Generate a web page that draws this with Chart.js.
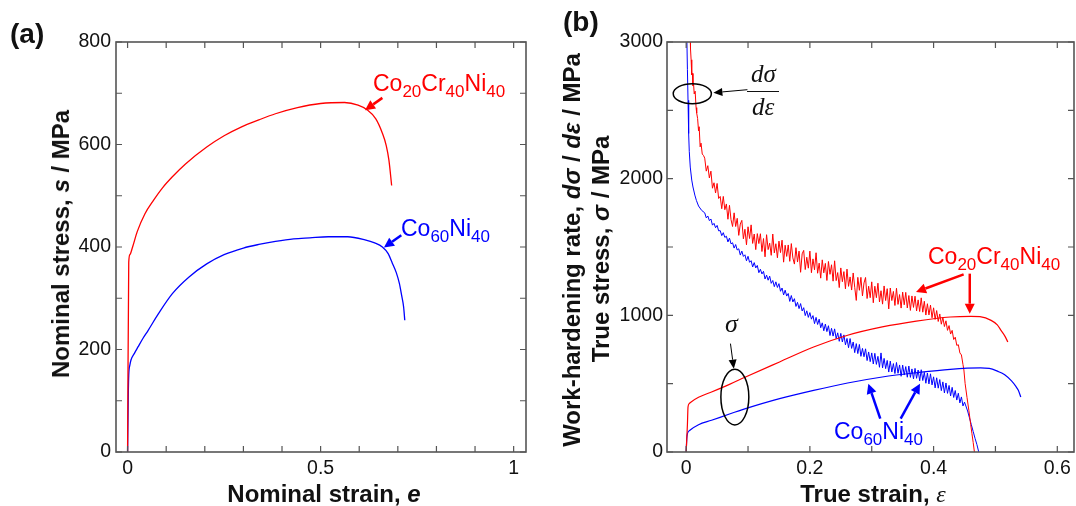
<!DOCTYPE html>
<html>
<head>
<meta charset="utf-8">
<script src="https://cdn.jsdelivr.net/npm/chart.js@4.4.1/dist/chart.umd.min.js"></script>
<style>
  html, body { margin: 0; padding: 0; background: #fff; }
  #wrap { position: relative; width: 1076px; height: 506px; overflow: hidden;
          font-family: 'Liberation Sans', Arial, sans-serif; color: #111; }
  canvas { position: absolute; top: 0; }
  #cA { left: 0; }
  #cB { left: 540px; }
  .t { position: absolute; white-space: nowrap; line-height: 1; }
  .b { font-weight: bold; font-size: 24px; }
  .pn { font-weight: bold; font-size: 28px; }
  .rot { transform: translate(-50%, -50%) rotate(-90deg); }
  .ctr { transform: translateX(-50%); }
  .lab { font-size: 23px; }
  .lab sub { font-size: 17px; vertical-align: -6px; line-height: 0; }
  .red { color: #f00; }
  .blue { color: #00f; }
  .sym { font-family: 'Liberation Serif', 'Times New Roman', serif; font-style: italic; font-size: 25px; }
  .eps { font-family: 'Liberation Serif', 'Times New Roman', serif; font-style: italic; font-weight: normal; }
  .bar { position: absolute; height: 1.3px; background: #111; }
</style>
</head>
<body>
<div id="wrap">
  <canvas id="cA" width="540" height="506"></canvas>
  <canvas id="cB" width="536" height="506"></canvas>

  <div class="t pn" style="left:10px; top:20px;">(a)</div>
  <div class="t pn" style="left:563px; top:8px;">(b)</div>

  <div class="t b rot" style="left:61px; top:244px;">Nominal stress, <i>s</i> / MPa</div>
  <div class="t b ctr" style="left:324px; top:482px;">Nominal strain, <i>e</i></div>

  <div class="t b rot" style="left:572px; top:250px;">Work-hardening rate, <i>d&sigma;</i> / <i>d&epsilon;</i> / MPa</div>
  <div class="t b rot" style="left:601px; top:249px;">True stress, <i>&sigma;</i> / MPa</div>
  <div class="t b ctr" style="left:873px; top:482px;">True strain, <span class="eps">&epsilon;</span></div>

  <div class="t lab red" style="left:373px; top:72px;">Co<sub>20</sub>Cr<sub>40</sub>Ni<sub>40</sub></div>
  <div class="t lab blue" style="left:401px; top:217px;">Co<sub>60</sub>Ni<sub>40</sub></div>
  <div class="t lab red" style="left:928px; top:245px;">Co<sub>20</sub>Cr<sub>40</sub>Ni<sub>40</sub></div>
  <div class="t lab blue" style="left:834px; top:420px;">Co<sub>60</sub>Ni<sub>40</sub></div>

  <div class="t sym" style="left:751px; top:61px;">d&sigma;</div>
  <div class="bar" style="left:747px; top:91px; width:32px;"></div>
  <div class="t sym" style="left:752px; top:94px;">d&epsilon;</div>
  <div class="t sym" style="left:725px; top:311px; font-size:26px;">&sigma;</div>
</div>

<script>
// ===== DADOS: painel (a) tensão nominal x deformação nominal =====
const nomCrNi = [
  [0, 0], [0.003, 370], [0.006, 385], [0.013, 400], [0.025, 430], [0.045, 465],
  [0.067, 491], [0.09, 515], [0.116, 537], [0.15, 562], [0.205, 595], [0.25, 617],
  [0.294, 634], [0.34, 648], [0.383, 660], [0.44, 672], [0.5, 680], [0.562, 682],
  [0.597, 677], [0.62, 668], [0.643, 650], [0.66, 622], [0.67, 598], [0.677, 569], [0.684, 520]
];
const nomCoNi = [
  [0, 0], [0.002, 120], [0.003, 150], [0.006, 170], [0.009, 180], [0.018, 193],
  [0.027, 205], [0.04, 222], [0.053, 237], [0.08, 270], [0.116, 309], [0.16, 342],
  [0.205, 367], [0.25, 385], [0.3, 398], [0.34, 405], [0.383, 411], [0.43, 416],
  [0.472, 418], [0.52, 420], [0.57, 420], [0.615, 414], [0.64, 408], [0.66, 400],
  [0.675, 387], [0.686, 368], [0.696, 350], [0.704, 329], [0.71, 305], [0.715, 283], [0.718, 257]
];

// ===== DADOS: painel (b) tensão verdadeira =====
const trueCrNi = [
  [0, 0], [0.002, 200], [0.003, 330], [0.005, 355], [0.008, 366], [0.02, 400],
  [0.041, 439], [0.07, 495], [0.096, 549], [0.151, 659], [0.206, 768], [0.261, 854],
  [0.317, 915], [0.372, 958], [0.427, 988], [0.46, 993], [0.475, 990], [0.493, 963],
  [0.503, 930], [0.509, 890], [0.515, 850], [0.52, 805]
];
const trueCoNi = [
  [0, 0], [0.001, 100], [0.002, 134], [0.006, 159], [0.02, 200], [0.041, 232],
  [0.07, 278], [0.096, 317], [0.151, 390], [0.206, 451], [0.261, 505], [0.317, 549],
  [0.372, 580], [0.427, 605], [0.476, 615], [0.49, 612], [0.504, 590], [0.515, 565],
  [0.526, 520], [0.533, 480], [0.537, 451], [0.541, 402]
];

// ===== DADOS: taxa de encruamento dσ/dε (com o ruído) =====
const hardCrNi = [
  [0.0062, 3100], [0.007, 2950], [0.008, 2870], [0.009, 2760], [0.010, 2770], [0.011, 2680],
  [0.012, 2690], [0.013, 2620], [0.0145, 2640], [0.016, 2520], [0.017, 2480], [0.0185, 2440],
  [0.020, 2350], [0.021, 2380], [0.0226, 2233], [0.024, 2260], [0.026, 2180], [0.028, 2170],
  [0.0300, 2150], [0.0325, 2055], [0.0350, 2095], [0.0375, 2005], [0.0400, 2055], [0.0425, 1930],
  [0.0450, 1970], [0.0475, 1895], [0.0500, 1965], [0.0525, 1855], [0.0550, 1870], [0.0575, 1780],
  [0.0600, 1870], [0.0625, 1773], [0.0650, 1815], [0.0675, 1703], [0.0700, 1805], [0.0725, 1700],
  [0.0750, 1650], [0.0775, 1750], [0.0800, 1650], [0.0825, 1710], [0.0850, 1585], [0.0875, 1668],
  [0.0900, 1695], [0.0925, 1560], [0.0950, 1630], [0.0975, 1516], [0.1000, 1648], [0.1025, 1562],
  [0.1050, 1662], [0.1075, 1526], [0.1100, 1595], [0.1125, 1481], [0.1150, 1598], [0.1175, 1525],
  [0.1200, 1597], [0.1225, 1467], [0.1250, 1562], [0.1275, 1428], [0.1300, 1590], [0.1325, 1481],
  [0.1350, 1528], [0.1375, 1439], [0.1400, 1595], [0.1425, 1457], [0.1450, 1524], [0.1475, 1421],
  [0.1500, 1543], [0.1525, 1459], [0.1550, 1550], [0.1575, 1389], [0.1600, 1513], [0.1625, 1431],
  [0.1650, 1515], [0.1675, 1395], [0.1700, 1525], [0.1725, 1420], [0.1750, 1375], [0.1775, 1495],
  [0.1800, 1390], [0.1825, 1470], [0.1850, 1315], [0.1875, 1450], [0.1900, 1475], [0.1925, 1335],
  [0.1950, 1425], [0.1975, 1345], [0.2000, 1470], [0.2025, 1312], [0.2050, 1413], [0.2075, 1333],
  [0.2100, 1458], [0.2125, 1308], [0.2150, 1382], [0.2175, 1272], [0.2200, 1406], [0.2225, 1311],
  [0.2250, 1380], [0.2275, 1255], [0.2300, 1394], [0.2325, 1300], [0.2350, 1370], [0.2375, 1250],
  [0.2400, 1399], [0.2425, 1254], [0.2450, 1313], [0.2475, 1203], [0.2500, 1347], [0.2525, 1246],
  [0.2550, 1320], [0.2575, 1194], [0.2600, 1338], [0.2625, 1212], [0.2650, 1281], [0.2675, 1185],
  [0.2700, 1310], [0.2725, 1205], [0.2750, 1109], [0.2775, 1278], [0.2800, 1183], [0.2825, 1278],
  [0.2850, 1142], [0.2875, 1237], [0.2900, 1277], [0.2925, 1123], [0.2950, 1213], [0.2975, 1129],
  [0.3000, 1245], [0.3025, 1092], [0.3050, 1213], [0.3075, 1129], [0.3100, 1235], [0.3125, 1098],
  [0.3150, 1180], [0.3175, 1082], [0.3200, 1215], [0.3225, 1108], [0.3250, 1195], [0.3275, 1047],
  [0.3300, 1200], [0.3325, 1108], [0.3350, 1175], [0.3375, 1072], [0.3400, 1198], [0.3425, 1080],
  [0.3450, 1152], [0.3475, 1053], [0.3500, 1170], [0.3525, 1077], [0.3550, 1168], [0.3575, 1054],
  [0.3600, 1145], [0.3625, 1036], [0.3650, 1142], [0.3675, 1058], [0.3700, 1140], [0.3725, 1032],
  [0.3750, 1113], [0.3775, 1028], [0.3800, 1128], [0.3825, 1023], [0.3850, 1103], [0.3875, 1002],
  [0.3900, 1085], [0.3925, 1003], [0.3950, 1075], [0.3975, 982], [0.4000, 1055], [0.4025, 970],
  [0.4050, 1035], [0.4075, 955], [0.4100, 1010], [0.4125, 935], [0.4150, 985], [0.4175, 918],
  [0.4200, 960], [0.4225, 890], [0.4250, 925], [0.4275, 863], [0.4300, 890], [0.4325, 823],
  [0.4350, 840], [0.4375, 780], [0.4400, 785], [0.4425, 725], [0.4450, 710], [0.4475, 640],
  [0.449, 600], [0.451, 500], [0.454, 400], [0.457, 305], [0.460, 200], [0.462, 134],
  [0.464, 70], [0.466, 0]
];
const hardCoNi = [
  [0.0008, 3100], [0.002, 2800], [0.003, 2573], [0.004, 2330], [0.005, 2200], [0.0066, 2085],
  [0.009, 1990], [0.011, 1939], [0.014, 1880], [0.0165, 1841], [0.020, 1800], [0.025, 1768],
  [0.0300, 1750], [0.0325, 1713], [0.0350, 1727], [0.0375, 1693], [0.0400, 1705], [0.0425, 1660],
  [0.0450, 1673], [0.0475, 1641], [0.0500, 1658], [0.0525, 1618], [0.0550, 1620], [0.0575, 1583],
  [0.0600, 1605], [0.0625, 1570], [0.0650, 1579], [0.0675, 1537], [0.0700, 1565], [0.0725, 1523],
  [0.0750, 1531], [0.0775, 1492], [0.0800, 1518], [0.0825, 1478], [0.0850, 1487], [0.0875, 1441],
  [0.0900, 1470], [0.0925, 1431], [0.0950, 1443], [0.0975, 1399], [0.1000, 1432], [0.1025, 1388],
  [0.1050, 1400], [0.1075, 1354], [0.1100, 1386], [0.1125, 1347], [0.1150, 1365], [0.1175, 1312],
  [0.1200, 1337], [0.1225, 1303], [0.1250, 1322], [0.1275, 1266], [0.1300, 1294], [0.1325, 1257],
  [0.1350, 1287], [0.1375, 1234], [0.1400, 1255], [0.1425, 1210], [0.1450, 1245], [0.1475, 1204],
  [0.1500, 1232], [0.1525, 1176], [0.1550, 1200], [0.1575, 1149], [0.1600, 1184], [0.1625, 1141],
  [0.1650, 1160], [0.1675, 1102], [0.1700, 1145], [0.1725, 1098], [0.1750, 1122], [0.1775, 1065],
  [0.1800, 1095], [0.1825, 1049], [0.1850, 1086], [0.1875, 1032], [0.1900, 1056], [0.1925, 998],
  [0.1950, 1033], [0.1975, 985], [0.2000, 1020], [0.2025, 972], [0.2050, 998], [0.2075, 939],
  [0.2100, 985], [0.2125, 933], [0.2150, 972], [0.2175, 909], [0.2200, 945], [0.2225, 887],
  [0.2250, 936], [0.2275, 881], [0.2300, 924], [0.2325, 852], [0.2350, 905], [0.2375, 848],
  [0.2400, 901], [0.2425, 829], [0.2450, 872], [0.2475, 810], [0.2500, 868], [0.2525, 805],
  [0.2550, 857], [0.2575, 784], [0.2600, 831], [0.2625, 763], [0.2650, 830], [0.2675, 758],
  [0.2700, 805], [0.2725, 727], [0.2750, 793], [0.2775, 720], [0.2800, 787], [0.2825, 700],
  [0.2850, 758], [0.2875, 697], [0.2900, 755], [0.2925, 669], [0.2950, 732], [0.2975, 661],
  [0.3000, 725], [0.3025, 644], [0.3050, 722], [0.3075, 641], [0.3100, 700], [0.3125, 620],
  [0.3150, 725], [0.3175, 615], [0.3200, 685], [0.3225, 610], [0.3250, 670], [0.3275, 585],
  [0.3300, 665], [0.3325, 586], [0.3350, 647], [0.3375, 574], [0.3400, 655], [0.3425, 576],
  [0.3450, 637], [0.3475, 554], [0.3500, 636], [0.3525, 563], [0.3550, 625], [0.3575, 547],
  [0.3600, 629], [0.3625, 546], [0.3650, 608], [0.3675, 535], [0.3700, 612], [0.3725, 539],
  [0.3750, 600], [0.3775, 521], [0.3800, 602], [0.3825, 523], [0.3850, 583], [0.3875, 503],
  [0.3900, 578], [0.3925, 498], [0.3950, 572], [0.3975, 491], [0.4000, 550], [0.4025, 469],
  [0.4050, 543], [0.4075, 467], [0.4100, 530], [0.4125, 449], [0.4150, 513], [0.4175, 432],
  [0.4200, 505], [0.4225, 429], [0.4250, 487], [0.4275, 410], [0.4300, 473], [0.4325, 399],
  [0.4350, 450], [0.4375, 380], [0.4400, 430], [0.4425, 359], [0.4450, 403], [0.4475, 337],
  [0.4500, 365], [0.455, 300], [0.458, 250], [0.461, 200], [0.464, 150], [0.467, 100],
  [0.470, 55], [0.473, 0]
];

// ===== EIXOS =====
const xTicksA = [0, 0.5, 1];
const yTicksA = [0, 200, 400, 600, 800];
const xMarksA = [0, 0.1, 0.2, 0.3, 0.4, 0.5, 0.6, 0.7, 0.8, 0.9, 1];
const yMarksA = [0, 100, 200, 300, 400, 500, 600, 700, 800];
const xTicksB = [0, 0.2, 0.4, 0.6];
const yTicksB = [0, 1000, 2000, 3000];
const xMarksB = [0, 0.1, 0.2, 0.3, 0.4, 0.5, 0.6];
const yMarksB = [0, 500, 1000, 1500, 2000, 2500, 3000];

const RED = '#ff0000';
const BLUE = '#0000ff';
const fontTick = { family: "'Liberation Sans', Arial, sans-serif", size: 19.5 };

const pts = arr => arr.map(p => ({ x: p[0], y: p[1] }));

function serie(arr, color, width, smooth) {
  return {
    data: pts(arr),
    borderColor: color,
    borderWidth: width,
    pointRadius: 0,
    fill: false,
    tension: 0,
    cubicInterpolationMode: smooth ? 'monotone' : 'default'
  };
}

function eixo(min, max, ticks, fixo, pad, isX) {
  return {
    type: 'linear', min, max,
    grid: { display: false, drawTicks: false },
    border: { display: false },
    afterBuildTicks: s => { s.ticks = ticks.map(v => ({ value: v })); },
    afterFit: s => { if (isX) s.height = fixo; else s.width = fixo; },
    ticks: { font: fontTick, color: '#111', padding: pad, maxRotation: 0, autoSkip: false,
             callback: v => String(v) }
  };
}

// moldura com marcas para dentro nos quatro lados
const moldura = (xm, ym) => ({
  id: 'moldura',
  afterDraw(chart) {
    const { ctx, chartArea: a, scales: { x, y } } = chart;
    ctx.save();
    ctx.strokeStyle = '#555';
    ctx.lineWidth = 1.2;
    ctx.beginPath();
    xm.forEach(v => {
      const p = x.getPixelForValue(v);
      ctx.moveTo(p, a.bottom); ctx.lineTo(p, a.bottom - 6);
      ctx.moveTo(p, a.top);    ctx.lineTo(p, a.top + 6);
    });
    ym.forEach(v => {
      const p = y.getPixelForValue(v);
      ctx.moveTo(a.left, p);  ctx.lineTo(a.left + 6, p);
      ctx.moveTo(a.right, p); ctx.lineTo(a.right - 6, p);
    });
    ctx.stroke();
    ctx.lineWidth = 1.6;
    ctx.strokeRect(a.left, a.top, a.right - a.left, a.bottom - a.top);
    ctx.restore();
  }
});

function seta(ctx, x1, y1, x2, y2, cor, lw, hl, hw) {
  const ang = Math.atan2(y2 - y1, x2 - x1);
  const bx = x2 - hl * Math.cos(ang), by = y2 - hl * Math.sin(ang);
  ctx.strokeStyle = cor; ctx.fillStyle = cor; ctx.lineWidth = lw;
  ctx.beginPath(); ctx.moveTo(x1, y1); ctx.lineTo(bx, by); ctx.stroke();
  ctx.beginPath();
  ctx.moveTo(x2, y2);
  ctx.lineTo(bx + hw * Math.sin(ang), by - hw * Math.cos(ang));
  ctx.lineTo(bx - hw * Math.sin(ang), by + hw * Math.cos(ang));
  ctx.closePath(); ctx.fill();
}

// setas e elipses em coordenadas de dados
const notas = (setas, elipses) => ({
  id: 'notas',
  afterDatasetsDraw(chart) {
    const { ctx, scales: { x, y } } = chart;
    ctx.save();
    elipses.forEach(e => {
      const cx = x.getPixelForValue(e.x), cy = y.getPixelForValue(e.y);
      const rx = Math.abs(x.getPixelForValue(e.x + e.rx) - cx);
      const ry = Math.abs(y.getPixelForValue(e.y + e.ry) - cy);
      ctx.strokeStyle = '#000'; ctx.lineWidth = 1.5;
      ctx.beginPath(); ctx.ellipse(cx, cy, rx, ry, 0, 0, Math.PI * 2); ctx.stroke();
    });
    setas.forEach(s => seta(ctx,
      x.getPixelForValue(s.de[0]), y.getPixelForValue(s.de[1]),
      x.getPixelForValue(s.para[0]), y.getPixelForValue(s.para[1]),
      s.cor, s.lw, s.hl, s.hw));
    ctx.restore();
  }
});

const base = {
  responsive: false,
  animation: false,
  events: [],
  plugins: { legend: { display: false }, tooltip: { enabled: false } }
};

// ===== PAINEL (a) =====
new Chart(document.getElementById('cA'), {
  type: 'line',
  data: { datasets: [serie(nomCrNi, RED, 1.3, true), serie(nomCoNi, BLUE, 1.3, true)] },
  options: {
    ...base,
    layout: { padding: { left: 0, top: 42, right: 14, bottom: 0 } },
    scales: {
      x: eixo(-0.03, 1.032, xTicksA, 54, 5, true),
      y: eixo(0, 800, yTicksA, 116, 5, false)
    }
  },
  plugins: [
    moldura(xMarksA, yMarksA),
    notas([
      { de: [0.66, 691], para: [0.615, 667], cor: RED, lw: 2.5, hl: 10, hw: 5 },
      { de: [0.709, 423], para: [0.664, 399], cor: BLUE, lw: 2.5, hl: 10, hw: 5 }
    ], [])
  ]
});

// ===== PAINEL (b) =====
new Chart(document.getElementById('cB'), {
  type: 'line',
  data: {
    datasets: [
      serie(trueCrNi, RED, 1.2, true),
      serie(trueCoNi, BLUE, 1.2, true),
      serie(hardCrNi, RED, 1, false),
      serie(hardCoNi, BLUE, 1, false)
    ]
  },
  options: {
    ...base,
    layout: { padding: { left: 0, top: 42, right: 2, bottom: 0 } },
    scales: {
      x: eixo(-0.031, 0.627, xTicksB, 54, 5, true),
      y: eixo(0, 3000, yTicksB, 127, 4, false)
    }
  },
  plugins: [
    moldura(xMarksB, yMarksB),
    notas([
      { de: [0.099, 2651], para: [0.044, 2629], cor: '#000', lw: 1, hl: 9, hw: 4 },
      { de: [0.0716, 793], para: [0.077, 610], cor: '#000', lw: 1, hl: 9, hw: 4 },
      { de: [0.4486, 1300], para: [0.3716, 1171], cor: RED, lw: 2.5, hl: 10, hw: 5 },
      { de: [0.4585, 1305], para: [0.4585, 1012], cor: RED, lw: 2.5, hl: 10, hw: 5 },
      { de: [0.3138, 244], para: [0.2945, 500], cor: BLUE, lw: 2.5, hl: 10, hw: 5 },
      { de: [0.3468, 244], para: [0.378, 500], cor: BLUE, lw: 2.5, hl: 10, hw: 5 }
    ], [
      { x: 0.0099, y: 2622, rx: 0.0308, ry: 73 },
      { x: 0.0787, y: 402, rx: 0.0226, ry: 204 }
    ])
  ]
});
</script>
</body>
</html>
